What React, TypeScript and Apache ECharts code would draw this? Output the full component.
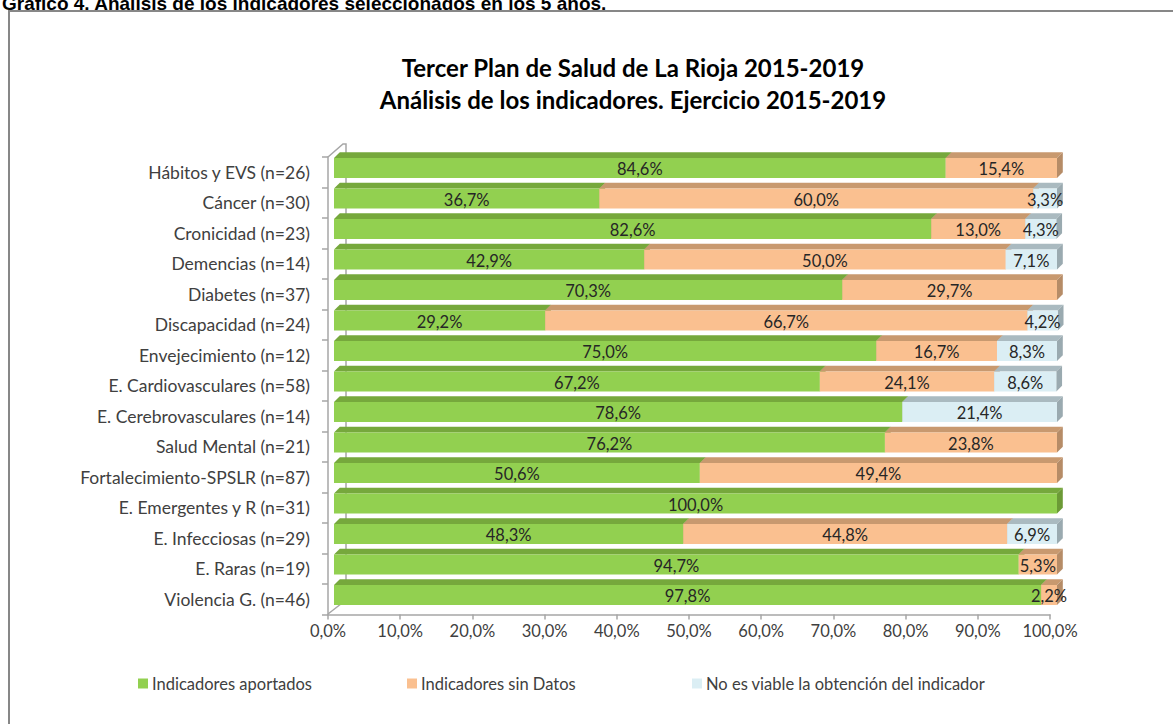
import React, { useEffect, useRef } from "react";
import * as echarts from "echarts";

const categories = [
  "Hábitos y EVS (n=26)",
  "Cáncer (n=30)",
  "Cronicidad (n=23)",
  "Demencias (n=14)",
  "Diabetes (n=37)",
  "Discapacidad (n=24)",
  "Envejecimiento (n=12)",
  "E. Cardiovasculares (n=58)",
  "E. Cerebrovasculares (n=14)",
  "Salud Mental (n=21)",
  "Fortalecimiento-SPSLR (n=87)",
  "E. Emergentes y R (n=31)",
  "E. Infecciosas (n=29)",
  "E. Raras (n=19)",
  "Violencia G. (n=46)",
];

const aportados = [84.6, 36.7, 82.6, 42.9, 70.3, 29.2, 75.0, 67.2, 78.6, 76.2, 50.6, 100.0, 48.3, 94.7, 97.8];
const sinDatos = [15.4, 60.0, 13.0, 50.0, 29.7, 66.7, 16.7, 24.1, 0, 23.8, 49.4, 0, 44.8, 5.3, 2.2];
const noViable = [0, 3.3, 4.3, 7.1, 0, 4.2, 8.3, 8.6, 21.4, 0, 0, 0, 6.9, 0, 0];

const seriesNames = [
  "Indicadores aportados",
  "Indicadores sin Datos",
  "No es viable la obtención del indicador",
];

const chartTitle = "Tercer Plan de Salud de La Rioja 2015-2019\nAnálisis de los indicadores. Ejercicio 2015-2019";
const heading = "Gráfico 4. Análisis de los indicadores seleccionados en los 5 años.";

const FONT = "Lato, 'Open Sans', sans-serif";

const fmt = (v: number) => v.toFixed(1).replace(".", ",") + "%";

const palettes = [
  { front: "#92D050", top: "#76A83C", side: "#6C9A36" },
  { front: "#FAC090", top: "#C8996F", side: "#B68C67" },
  { front: "#DBEEF4", top: "#AABAC0", side: "#9AAAB0" },
];

function makeRender(p: { front: string; top: string; side: string }) {
  return (params: any, api: any) => {
    const start = api.value(0) as number;
    const end = api.value(1) as number;
    const val = api.value(3) as number;
    if (!(val > 0)) return null;
    const cat = api.value(2);
    const p0 = api.coord([start, cat]);
    const p1 = api.coord([end, cat]);
    const band = api.size([0, 1])[1];
    const h = band * 0.656;
    const d = band * 0.19;
    const x0 = p0[0];
    const x1 = p1[0];
    const yc = p0[1];
    const yT = yc - h / 2;
    const yB = yc + h / 2;
    return {
      type: "group",
      children: [
        {
          type: "polygon",
          shape: { points: [[x0, yT], [x1, yT], [x1 + d, yT - d], [x0 + d, yT - d]] },
          style: { fill: p.top },
        },
        {
          type: "polygon",
          shape: { points: [[x1, yT], [x1 + d, yT - d], [x1 + d, yB - d], [x1, yB]] },
          style: { fill: p.side },
        },
        {
          type: "rect",
          shape: { x: x0, y: yT, width: x1 - x0, height: h },
          style: { fill: p.front },
        },
        {
          type: "text",
          x: (x0 + x1) / 2,
          y: yc + 1,
          z2: 100,
          style: {
            text: fmt(val),
            align: "center",
            verticalAlign: "middle",
            fill: "#262626",
            font: `16.5px ${FONT}`,
          },
        },
      ],
    };
  };
}

export default function App() {
  const ref = useRef<HTMLDivElement>(null);
  useEffect(() => {
    if (!ref.current) return;
    const chart = echarts.init(ref.current, undefined, { renderer: "svg" });
    const stacks = [aportados, sinDatos, noViable];
    const series = stacks.map((arr, k) => {
      const data = arr.map((v, i) => {
        let start = 0;
        for (let j = 0; j < k; j++) start += stacks[j][i];
        return [start, start + v, i, v];
      });
      return {
        type: "custom",
        name: seriesNames[k],
        xAxisIndex: 0,
        yAxisIndex: 0,
        itemStyle: { color: palettes[k].front },
        encode: { x: [0, 1], y: 2 },
        renderItem: makeRender(palettes[k]),
        data,
      };
    });
    const axisGray = "#A6A6A6";
    const legendBase = {
      top: 675,
      padding: 0,
      icon: "rect",
      itemWidth: 10,
      itemHeight: 10,
      itemGap: 0,
      textStyle: { fontFamily: FONT, fontSize: 16.5, color: "#404040", padding: [0, 0, 0, -1] },
      selectedMode: false,
    };
    chart.setOption({
      animation: false,
      backgroundColor: "#ffffff",
      title: {
        text: chartTitle,
        left: 628,
        textAlign: "center",
        top: 46,
        textStyle: {
          fontFamily: FONT,
          fontWeight: "bold",
          fontSize: 24,
          lineHeight: 32,
          color: "#000000",
        },
      },
      legend: [
        { ...legendBase, left: 138, data: [seriesNames[0]] },
        { ...legendBase, left: 407, data: [seriesNames[1]] },
        { ...legendBase, left: 692, data: [seriesNames[2]] },
      ],
      grid: [
        { left: 334, top: 152.75, width: 723, height: 457.5 },
        { left: 328, top: 157, width: 722, height: 457.5 },
      ],
      xAxis: [
        { type: "value", gridIndex: 0, min: 0, max: 100, show: false },
        {
          type: "value",
          gridIndex: 1,
          min: 0,
          max: 100,
          interval: 10,
          axisLine: { show: true, lineStyle: { color: axisGray, width: 1.5 } },
          axisTick: { show: true, length: 5, lineStyle: { color: axisGray, width: 1.5 } },
          splitLine: { show: false },
          axisLabel: {
            formatter: (v: number) => fmt(v),
            color: "#404040",
            fontFamily: FONT,
            fontSize: 16.5,
            margin: 8,
          },
        },
      ],
      yAxis: [
        { type: "category", gridIndex: 0, inverse: true, data: categories, show: false },
        {
          type: "category",
          gridIndex: 1,
          inverse: true,
          data: categories,
          axisLine: { show: true, lineStyle: { color: axisGray, width: 1.5 } },
          axisTick: { show: true, length: 6, lineStyle: { color: axisGray, width: 1.5 } },
          axisLabel: {
            color: "#404040",
            fontFamily: FONT,
            fontSize: 17.5,
            margin: 18,
          },
        },
      ],
      graphic: [
        {
          type: "rect",
          z: 0,
          shape: { x: 9, y: 11, width: 1300, height: 900 },
          style: { fill: "none", stroke: "#878787", lineWidth: 2 },
        },
        {
          type: "text",
          z: 5,
          x: 2,
          y: 13,
          style: {
            text: heading,
            font: "bold 19px 'Liberation Sans', Arial, sans-serif",
            fill: "#000000",
            verticalAlign: "bottom",
            align: "left",
          },
        },
        {
          type: "polyline",
          z: 1,
          shape: { points: [[328, 157], [343, 144], [346, 144], [346, 600]] },
          style: { stroke: axisGray, lineWidth: 1.5, fill: "none" },
        },
        {
          type: "line",
          z: 1,
          shape: { x1: 328, y1: 614, x2: 346, y2: 600 },
          style: { stroke: axisGray, lineWidth: 1.5 },
        },
      ],
      series,
    });
    return () => chart.dispose();
  }, []);
  return (
    <div
      ref={ref}
      style={{ position: "fixed", left: 0, top: 0, width: 1173, height: 724 }}
    />
  );
}
